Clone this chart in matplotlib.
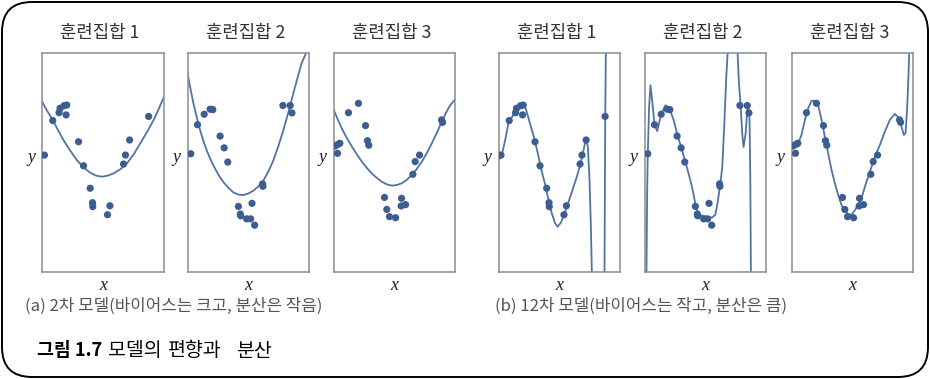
import matplotlib
matplotlib.use('Agg')
import numpy as np
from matplotlib import pyplot as plt
from matplotlib.patches import FancyBboxPatch

plt.rcParams['font.family'] = ['Noto Sans CJK KR', 'DejaVu Sans']

# training sets (same points are used for both models)
set1_x = [0.02, 0.088, 0.140, 0.148, 0.181, 0.203, 0.198, 0.300, 0.341, 0.396, 0.415, 0.417,
          0.558, 0.538, 0.670, 0.686, 0.720, 0.876]
set1_y = [0.534, 0.692, 0.728, 0.748, 0.760, 0.763, 0.718, 0.595, 0.485, 0.382, 0.316, 0.298,
          0.302, 0.261, 0.493, 0.534, 0.603, 0.711]

set2_x = [0.027, 0.082, 0.137, 0.186, 0.208, 0.268, 0.301, 0.331, 0.617, 0.620, 0.418, 0.434,
          0.437, 0.486, 0.519, 0.530, 0.552, 0.784, 0.844, 0.858]
set2_y = [0.540, 0.673, 0.721, 0.744, 0.742, 0.621, 0.567, 0.502, 0.402, 0.391, 0.299, 0.264,
          0.256, 0.242, 0.242, 0.313, 0.213, 0.761, 0.761, 0.727]

set3_x = [0.014, 0.036, 0.052, 0.033, 0.123, 0.205, 0.263, 0.279, 0.290, 0.419, 0.438, 0.460,
          0.510, 0.559, 0.556, 0.592, 0.652, 0.671, 0.707, 0.888, 0.896]
set3_y = [0.576, 0.583, 0.588, 0.542, 0.728, 0.771, 0.669, 0.600, 0.579, 0.340, 0.285, 0.252,
          0.247, 0.336, 0.301, 0.307, 0.446, 0.504, 0.534, 0.695, 0.684]

# 2nd order model curves
quad1_x = [0.0, 0.044, 0.088, 0.132, 0.176, 0.231, 0.286, 0.341, 0.396, 0.444, 0.492, 0.540,
           0.588, 0.643, 0.698, 0.753, 0.808, 0.863, 0.918, 0.959, 1.0]
quad1_y = [0.779, 0.735, 0.695, 0.648, 0.603, 0.555, 0.511, 0.478, 0.453, 0.440, 0.435, 0.440,
           0.450, 0.469, 0.496, 0.537, 0.588, 0.640, 0.695, 0.745, 0.798]

quad2_x = [0.0, 0.025, 0.049, 0.077, 0.104, 0.131, 0.158, 0.186, 0.213, 0.254, 0.295, 0.336,
           0.377, 0.418, 0.459, 0.500, 0.541, 0.582, 0.623, 0.664, 0.705, 0.746, 0.787, 0.828,
           0.869, 0.903, 0.937, 0.973, 0.99]
quad2_y = [0.908, 0.836, 0.770, 0.705, 0.647, 0.598, 0.555, 0.518, 0.486, 0.444, 0.410, 0.384,
           0.363, 0.353, 0.351, 0.358, 0.371, 0.390, 0.417, 0.458, 0.509, 0.574, 0.647, 0.728,
           0.816, 0.885, 0.954, 1.0, 1.05]

quad3_x = [0.0, 0.034, 0.068, 0.110, 0.151, 0.192, 0.233, 0.274, 0.315, 0.356, 0.397, 0.438,
           0.479, 0.521, 0.562, 0.603, 0.644, 0.685, 0.726, 0.767, 0.808, 0.849, 0.890, 0.925,
           0.959, 1.0]
quad3_y = [0.744, 0.698, 0.656, 0.612, 0.573, 0.537, 0.504, 0.475, 0.450, 0.429, 0.412, 0.400,
           0.394, 0.397, 0.405, 0.421, 0.443, 0.471, 0.504, 0.543, 0.588, 0.636, 0.687, 0.728,
           0.763, 0.789]

# 12th order model curves
deg12_1_x = [0.0, 0.027, 0.055, 0.082, 0.110, 0.145, 0.173, 0.200, 0.219, 0.247, 0.274, 0.301,
             0.329, 0.356, 0.384, 0.411, 0.438, 0.466, 0.485, 0.512, 0.540, 0.567, 0.603, 0.644,
             0.671, 0.699, 0.718, 0.734, 0.748, 0.759, 0.767, 0.775, 0.866, 0.871, 0.877, 0.882,
             0.885]
deg12_1_y = [0.508, 0.534, 0.603, 0.682, 0.707, 0.737, 0.760, 0.771, 0.756, 0.702, 0.649, 0.595,
             0.527, 0.458, 0.397, 0.328, 0.267, 0.221, 0.206, 0.224, 0.261, 0.305, 0.366, 0.435,
             0.489, 0.557, 0.608, 0.573, 0.420, 0.206, 0.0, -0.2, -0.2, 0.0, 0.711, 1.0, 1.2]

deg12_2_x = [0.010, 0.016, 0.022, 0.027, 0.038, 0.049, 0.063, 0.082, 0.104, 0.137, 0.172, 0.208,
             0.240, 0.273, 0.303, 0.336, 0.363, 0.391, 0.418, 0.437, 0.473, 0.514, 0.555, 0.582,
             0.601, 0.623, 0.639, 0.656, 0.672, 0.683, 0.689, 0.760, 0.765, 0.776, 0.790, 0.803,
             0.814, 0.831, 0.844, 0.855, 0.863, 0.869, 0.872, 0.874, 0.877]
deg12_2_y = [-0.2, 0.0, 0.371, 0.540, 0.755, 0.854, 0.785, 0.673, 0.644, 0.721, 0.762, 0.744,
             0.693, 0.621, 0.567, 0.502, 0.448, 0.387, 0.310, 0.267, 0.256, 0.252, 0.248, 0.261,
             0.317, 0.402, 0.479, 0.678, 0.893, 1.0, 1.2, 1.2, 1.0, 0.862, 0.761, 0.632, 0.571,
             0.632, 0.739, 0.755, 0.693, 0.448, 0.218, 0.0, -0.2]

deg12_3_x = [0.0, 0.027, 0.055, 0.082, 0.110, 0.137, 0.164, 0.192, 0.219, 0.247, 0.274, 0.301,
             0.329, 0.356, 0.384, 0.411, 0.438, 0.466, 0.493, 0.521, 0.548, 0.575, 0.603, 0.630,
             0.658, 0.685, 0.726, 0.767, 0.808, 0.849, 0.877, 0.904, 0.923, 0.937, 0.951, 0.962,
             0.967, 0.970]
deg12_3_y = [0.569, 0.579, 0.588, 0.626, 0.695, 0.748, 0.782, 0.783, 0.763, 0.695, 0.618, 0.542,
             0.466, 0.405, 0.351, 0.305, 0.278, 0.264, 0.260, 0.282, 0.305, 0.336, 0.389, 0.435,
             0.481, 0.527, 0.580, 0.641, 0.695, 0.722, 0.707, 0.664, 0.626, 0.634, 0.756, 0.908,
             1.0, 1.2]

titles = ['훈련집합 1', '훈련집합 2', '훈련집합 3']
caption_a = '(a) 2차 모델(바이어스는 크고, 분산은 작음)'
caption_b = '(b) 12차 모델(바이어스는 작고, 분산은 큼)'
fig_label = '그림 1.7'
fig_words = ['모델의', '편향과', '분산']

W, H = 930, 379
fig = plt.figure(figsize=(W / 100, H / 100), dpi=100)

POINT_C = '#3c5d92'
LINE_C = '#5273a3'
FRAME_C = '#8c8c8c'

panel_left = [42, 187.5, 333.5, 498.5, 644.5, 791.5]
panel_w = 121.7
panel_top, panel_bot = 53.3, 271.7

sets = [(set1_x, set1_y), (set2_x, set2_y), (set3_x, set3_y)]
curves = [(quad1_x, quad1_y), (quad2_x, quad2_y), (quad3_x, quad3_y),
          (deg12_1_x, deg12_1_y), (deg12_2_x, deg12_2_y), (deg12_3_x, deg12_3_y)]

for i, left in enumerate(panel_left):
    ax = fig.add_axes([left / W, 1 - panel_bot / H, panel_w / W, (panel_bot - panel_top) / H])
    ax.set_xlim(0, 1)
    ax.set_ylim(0, 1)
    ax.set_xticks([])
    ax.set_yticks([])
    for sp in ax.spines.values():
        sp.set_color(FRAME_C)
        sp.set_linewidth(1.1)
    cx, cy = curves[i]
    ax.plot(cx, cy, color=LINE_C, lw=1.3, zorder=2)
    px, py = sets[i % 3]
    ax.scatter(px, py, s=27, color=POINT_C, edgecolors='none', zorder=3)
    # title above, axis letters
    fig.text((left + panel_w / 2 - 3) / W, 1 - 33 / H, titles[i % 3], ha='center', va='center',
             fontsize=12.8, color='#333333')
    fig.text((left + panel_w / 2) / W, 1 - 285 / H, 'x', ha='center', va='center',
             fontsize=13, family='Liberation Serif', style='italic', color='#222222')
    fig.text((left - 11) / W, 1 - 158 / H, 'y', ha='center', va='center',
             fontsize=13, family='Liberation Serif', style='italic', color='#222222')

fig.text(25 / W, 1 - 306 / H, caption_a, ha='left', va='center', fontsize=12.1, color='#555555')
fig.text(495 / W, 1 - 306 / H, caption_b, ha='left', va='center', fontsize=12.1, color='#555555')

fig.text(37 / W, 1 - 351 / H, fig_label, ha='left', va='center', fontsize=13.2,
         fontweight='bold', color='black')
for word, wx in zip(fig_words, [108, 168, 236]):
    fig.text(wx / W, 1 - 351 / H, word, ha='left', va='center', fontsize=14, color='black')

# rounded frame round everything
box = FancyBboxPatch((0.02, 0.02), W / 100 - 0.04, H / 100 - 0.04,
                     boxstyle='round,pad=0,rounding_size=0.3',
                     transform=fig.dpi_scale_trans, fill=False, ec='black', lw=1.4)
fig.patches.append(box)

plt.savefig('out.png', dpi=100)
